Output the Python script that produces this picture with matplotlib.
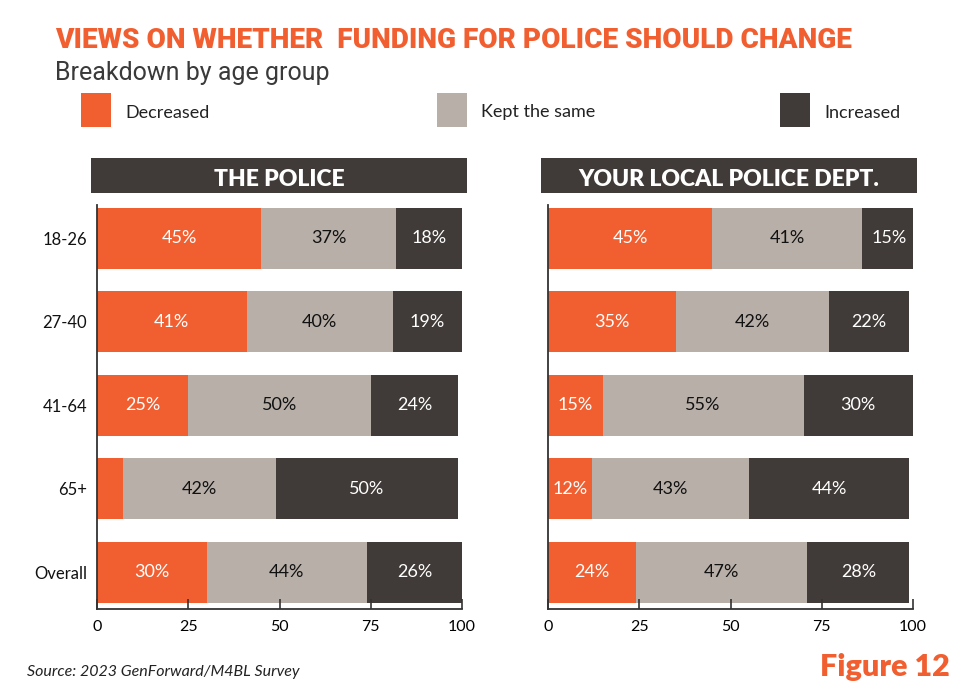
import matplotlib.pyplot as plt
import numpy as np
from matplotlib.patches import Rectangle

# age groups, top to bottom
ages = ['18-26', '27-40', '41-64', '65+', 'Overall']

# "The police"
police_decreased = [45, 41, 25, 7, 30]
police_same = [37, 40, 50, 42, 44]
police_increased = [18, 19, 24, 50, 26]

# "Your local police dept."
local_decreased = [45, 35, 15, 12, 24]
local_same = [41, 42, 55, 43, 47]
local_increased = [15, 22, 30, 44, 28]

series_names = ['Decreased', 'Kept the same', 'Increased']
panel_titles = ['THE POLICE', 'YOUR LOCAL POLICE DEPT.']
x_ticks = [0, 25, 50, 75, 100]

ORANGE = '#F15F31'
GRAY = '#B7AFA8'
DARK = '#403B38'
colors = [ORANGE, GRAY, DARK]
text_colors = ['white', '#111111', 'white']
FONT = 'Lato'


def draw_panel(ax, rows, show_ylabels=True):
    y = np.arange(len(ages))
    left = np.zeros(len(ages))
    for vals, color, tc in zip(rows, colors, text_colors):
        vals = np.array(vals, dtype=float)
        ax.barh(y, vals, left=left, height=0.73, color=color, linewidth=0)
        for yi, l, v in zip(y, left, vals):
            if v < 10:
                continue
            ax.text(l + v / 2, yi, f'{v:.0f}%', ha='center', va='center',
                    color=tc, fontsize=13, family=FONT)
        left += vals

    ax.set_xlim(0, 100)
    ax.set_ylim(4.44, -0.40)
    ax.set_xticks(x_ticks)
    ax.set_xticklabels([str(t) for t in x_ticks], family=FONT, fontsize=11.5)
    ax.set_yticks(y)
    ax.set_yticklabels(ages, family=FONT, fontsize=12,
                       color='#111111' if show_ylabels else 'none')
    ax.tick_params(axis='x', direction='in', length=7, width=1.2,
                   color='#333333', pad=8)
    ax.tick_params(axis='y', length=0, pad=7)
    for side in ['top', 'right']:
        ax.spines[side].set_visible(False)
    for side in ['left', 'bottom']:
        ax.spines[side].set_color('#333333')
        ax.spines[side].set_linewidth(1.3)


fig = plt.figure(figsize=(9.71, 6.96), dpi=100)

ax1 = fig.add_axes([0.0999, 0.125, 0.3759, 0.5805])
ax2 = fig.add_axes([0.5644, 0.125, 0.3759, 0.5805])
draw_panel(ax1, [police_decreased, police_same, police_increased])
draw_panel(ax2, [local_decreased, local_same, local_increased], show_ylabels=False)

# dark header boxes above each panel
for x0, title in zip([0.0937, 0.5572], panel_titles):
    fig.add_artist(Rectangle((x0, 0.7227), 0.3872, 0.0503,
                             transform=fig.transFigure, color=DARK, lw=0))
    fig.text(x0 + 0.3872 / 2, 0.7227 + 0.0503 / 2 - 0.006, title,
             ha='center', va='center', color='white', fontsize=16.5,
             fontweight='heavy', family=FONT)

# title, sized to span the same width as the panels
title = fig.text(0.0566, 1 - 48 / 696,
                 'VIEWS ON WHETHER  FUNDING FOR POLICE SHOULD CHANGE',
                 ha='left', va='baseline', color=ORANGE, fontsize=22,
                 fontweight='black', family='Roboto')
renderer = fig.canvas.get_renderer()
w = title.get_window_extent(renderer).width
title.set_fontsize(22 * 795 / w)

fig.text(0.0566, 1 - 73 / 696, 'Breakdown by age group', ha='left', va='center',
         color='#3a3a3a', fontsize=18, family='Roboto')

# legend row
legend_x = [81, 437, 780]
for px, name, color in zip(legend_x, series_names, colors):
    fig.add_artist(Rectangle((px / 971, 1 - 127 / 696), 30 / 971, 34 / 696,
                             transform=fig.transFigure, color=color, lw=0))
    fig.text((px + 44) / 971, 1 - 112.5 / 696, name, ha='left', va='center',
             color='#222222', fontsize=13, family=FONT)

# footer
fig.text(27 / 971, 1 - 672 / 696, 'Source: 2023 GenForward/M4BL Survey',
         ha='left', va='center', fontsize=11.5, style='italic',
         color='#222222', family=FONT)
fig.text(950 / 971, 1 - 667 / 696, 'Figure 12', ha='right', va='center',
         color=ORANGE, fontsize=22, fontweight='heavy', family=FONT)

fig.savefig('out.png', dpi=100)
